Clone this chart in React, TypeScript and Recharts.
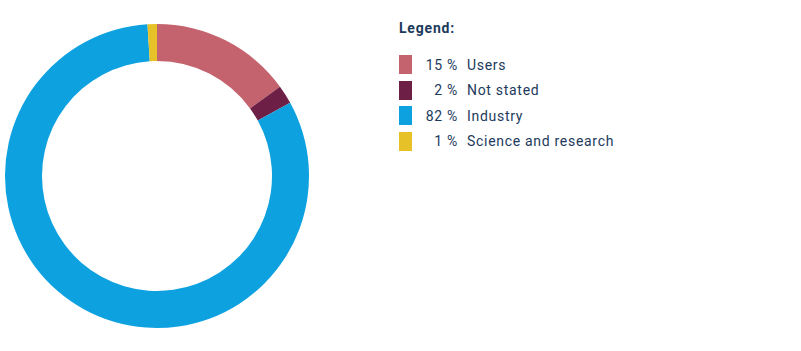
import { PieChart, Pie, Cell, Legend } from 'recharts'

const categories = ['Users', 'Not stated', 'Industry', 'Science and research']
const shares = [15, 2, 82, 1]
const COLORS = ['#c4636e', '#6e1f45', '#0ea1e0', '#e6c228']

const data = categories.map((name, i) => ({ name, value: shares[i] }))

const TEXT = '#1c3a5c'

function LegendBox() {
  return (
    <div style={{ fontFamily: 'Roboto, sans-serif', color: TEXT, fontSize: 14, letterSpacing: 0.7 }}>
      <div style={{ fontWeight: 700, marginBottom: 16, letterSpacing: 0.8 }}>Legend:</div>
      {data.map((d, i) => (
        <div key={d.name} style={{ display: 'flex', alignItems: 'center', height: 25.5 }}>
          <span style={{ width: 13, height: 19, background: COLORS[i], display: 'inline-block' }} />
          <span style={{ width: 46, textAlign: 'right', display: 'inline-block' }}>{d.value} %</span>
          <span style={{ marginLeft: 9 }}>{d.name}</span>
        </div>
      ))}
    </div>
  )
}

export default function App() {
  return (
    <div style={{ position: 'fixed', left: 0, top: 0, width: 801, height: 351, background: '#fff' }}>
      <PieChart width={801} height={351} margin={{ top: 0, right: 0, bottom: 0, left: 0 }}>
        <Pie
          data={data}
          dataKey="value"
          nameKey="name"
          cx={157}
          cy={176}
          innerRadius={115}
          outerRadius={152}
          startAngle={90}
          endAngle={-270}
          stroke="none"
          isAnimationActive={false}
        >
          {data.map((d, i) => (
            <Cell key={d.name} fill={COLORS[i]} />
          ))}
        </Pie>
        <Legend
          content={() => <LegendBox />}
          wrapperStyle={{ left: 399, top: 20, width: 320 }}
        />
      </PieChart>
    </div>
  )
}
